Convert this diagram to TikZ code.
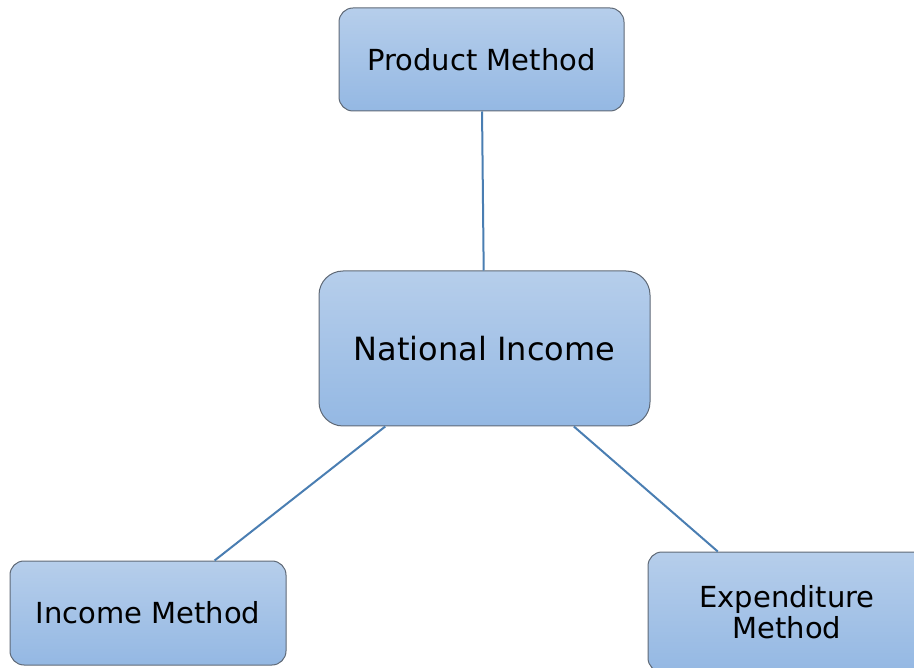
\documentclass[tikz,border=0pt]{standalone}
\usepackage{fontspec}
\setmainfont{DejaVu Sans}
\definecolor{boxtop}{RGB}{182,206,235}
\definecolor{boxbot}{RGB}{148,184,227}
\definecolor{boxline}{RGB}{95,105,118}
\definecolor{linkcol}{RGB}{74,126,178}
\tikzset{
  methodbox/.style={rectangle,rounded corners=14pt,draw=boxline,line width=1pt,
    top color=boxtop,bottom color=boxbot,align=center,inner sep=0pt,
    font=\fontsize{29}{31}\selectfont},
  link/.style={draw=linkcol,line width=2pt}
}
\begin{document}
\begin{tikzpicture}[x=1pt,y=-1pt]
\useasboundingbox (0,0) rectangle (914,668);
\clip (0,0) rectangle (914,668);
\begin{scope}
\node (NI) at (484.5,348.5) [methodbox,rounded corners=24pt,minimum width=331pt,minimum height=155pt,font=\fontsize{32}{34}\selectfont] {National Income};
\node (PM) at (481.5,59.5) [methodbox,minimum width=285pt,minimum height=103pt] {Product Method};
\node (IM) at (148,613) [methodbox,minimum width=276pt,minimum height=104pt] {Income Method};
\node (EM) at (787,612) [methodbox,minimum width=278pt,minimum height=120pt] {Expenditure\\ Method};
\draw[link] (PM) -- (NI);
\draw[link] (NI) -- (IM);
\draw[link] (NI) -- (EM);
\end{scope}
\end{tikzpicture}
\end{document}
